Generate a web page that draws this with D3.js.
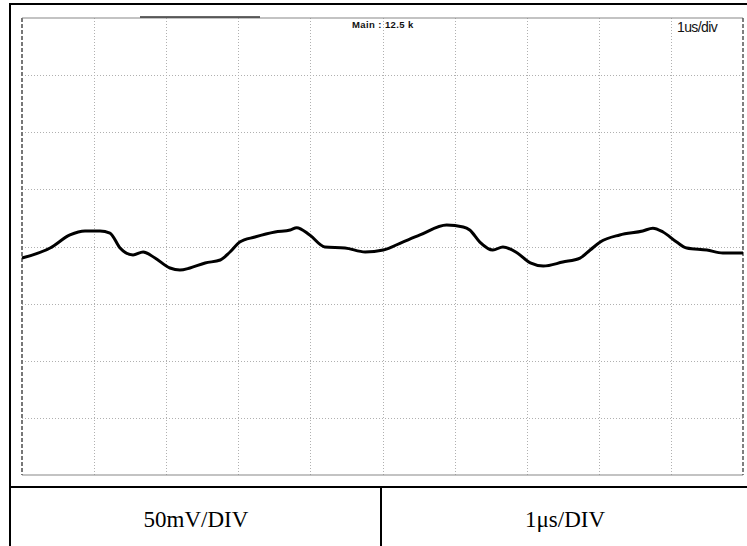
<!DOCTYPE html>
<html><head><meta charset="utf-8">
<script src="https://cdn.jsdelivr.net/npm/d3@7/dist/d3.min.js"></script>
<style>body{margin:0;background:#fff;}svg{display:block;}</style>
</head><body>
<svg id="c" width="747" height="546"></svg>
<script>
// time in µs (1 µs/div), voltage in mV (50 mV/div, 0 at centre line)
const timeUs = [0,0.39,0.665,0.874,1.082,1.22,1.36,1.54,1.68,1.845,2.052,2.19,2.33,2.54,2.75,2.885,3.02,3.23,3.51,3.72,3.81,3.99,4.2,4.48,4.76,5.01,5.28,5.52,5.89,6.12,6.21,6.35,6.53,6.67,6.87,7.05,7.23,7.5,7.74,7.88,8.02,8.29,8.61,8.75,8.89,9.08,9.22,9.5,9.72,10];
const voltMv = [-10.1,-1.3,10.1,13.6,13.6,11.8,-1.3,-7.4,-4.8,-10.1,-18.8,-20.6,-18.8,-14.4,-11.8,-4.8,3.9,8.3,12.7,14.4,16.5,10.1,-0.4,-1.3,-4.8,-3.1,3.9,10.1,18.8,17.1,14.4,3.9,-3.1,-0.4,-5.7,-14.4,-17.1,-13.6,-10.1,-3.1,3.9,10.1,13.6,16.0,12.7,3.9,-1.3,-3.1,-5.7,-5.7];
const xTicks = [0,1,2,3,4,5,6,7,8,9,10];
const yTicks = [-200,-150,-100,-50,0,50,100,150,200];
const topLabel = "Main : 12.5 k";
const rateLabel = "1us/div";
const cellLabels = ["50mV/DIV","1μs/DIV"];

const svg = d3.select("#c");
const L=22, R=743, T=18, B=475;
const x = d3.scaleLinear().domain([0,10]).range([L,R]);
const y = d3.scaleLinear().domain([-200,200]).range([B,T]);

// outer table lines
svg.append("line").attr("x1",10).attr("x2",10).attr("y1",3).attr("y2",546).attr("stroke","#000").attr("stroke-width",2);
svg.append("line").attr("x1",9).attr("x2",747).attr("y1",4).attr("y2",4).attr("stroke","#000").attr("stroke-width",2);
svg.append("line").attr("x1",9).attr("x2",747).attr("y1",487).attr("y2",487).attr("stroke","#000").attr("stroke-width",2);
svg.append("line").attr("x1",381).attr("x2",381).attr("y1",487).attr("y2",546).attr("stroke","#000").attr("stroke-width",2);

// grid
const g = svg.append("g");
g.selectAll(".vx").data(xTicks.slice(1,-1)).join("line")
  .attr("x1",d=>Math.round(x(d))+0.5).attr("x2",d=>Math.round(x(d))+0.5).attr("y1",T).attr("y2",B)
  .attr("stroke","#b0b0b0").attr("stroke-width",1).attr("stroke-dasharray","1,2");
g.selectAll(".hy").data(yTicks.slice(1,-1)).join("line")
  .attr("x1",L).attr("x2",R).attr("y1",d=>Math.round(y(d))+0.5).attr("y2",d=>Math.round(y(d))+0.5)
  .attr("stroke","#b0b0b0").attr("stroke-width",1).attr("stroke-dasharray","1,2");

// screen border
svg.append("line").attr("x1",L).attr("x2",R).attr("y1",T).attr("y2",T).attr("stroke","#888").attr("stroke-width",1.2);
svg.append("line").attr("x1",L).attr("x2",R).attr("y1",B).attr("y2",B).attr("stroke","#888").attr("stroke-width",1.2);
svg.append("line").attr("x1",L).attr("x2",L).attr("y1",T).attr("y2",B).attr("stroke","#777").attr("stroke-width",2).attr("stroke-dasharray","4,2");
svg.append("line").attr("x1",R).attr("x2",R).attr("y1",T).attr("y2",B).attr("stroke","#555").attr("stroke-width",1.5).attr("stroke-dasharray","4,2");
svg.append("line").attr("x1",140).attr("x2",260).attr("y1",17).attr("y2",17).attr("stroke","#333").attr("stroke-width",1.5);

// labels
svg.append("text").attr("x",352).attr("y",28).attr("font-family","Liberation Sans, Arial, sans-serif")
  .attr("font-size",9.5).attr("font-weight","bold").attr("letter-spacing",0.4).attr("fill","#111").text(topLabel);
svg.append("text").attr("x",677).attr("y",32).attr("font-family","Liberation Sans, Arial, sans-serif")
  .attr("font-size",14).attr("letter-spacing",-0.6).attr("fill","#111").text(rateLabel);

// waveform
const line = d3.line().x((d,i)=>x(timeUs[i])).y(d=>y(d)).curve(d3.curveMonotoneX);
svg.append("path").attr("d",line(voltMv)).attr("fill","none").attr("stroke","#000").attr("stroke-width",3).attr("stroke-linejoin","round");

// bottom cells
svg.selectAll(".cell").data(cellLabels).join("text")
  .attr("x",(d,i)=>i===0?196:565).attr("y",527).attr("text-anchor","middle")
  .attr("font-family","Liberation Serif, Times New Roman, serif").attr("font-size",23).attr("fill","#000").text(d=>d);
</script>
</body></html>
